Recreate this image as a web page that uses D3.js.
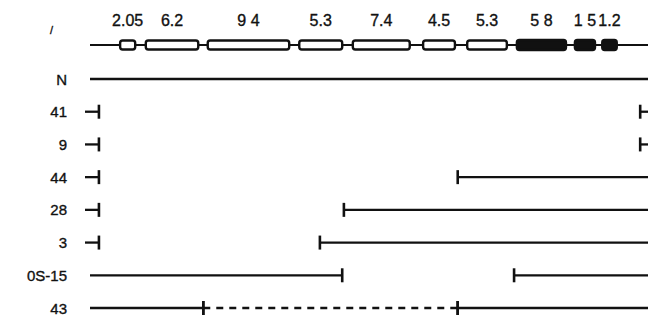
<!DOCTYPE html>
<html>
<head>
<meta charset="utf-8">
<script src="https://cdn.jsdelivr.net/npm/d3@7"></script>
<style>
    body { margin: 0; background: #fff; }
    text { font-family: "Liberation Sans", "DejaVu Sans", sans-serif; fill: #111; stroke: #111; stroke-width: 0.35px; }
</style>
</head>
<body>
<div id="map"></div>
<script>
    // gene products along the genome (map units 0-100)
    var productSizes = ["2.05", "6.2", "9 4", "5.3", "7.4", "4.5", "5.3", "5 8", "1 5", "1.2"];
    var productStart = [5.4, 10.0, 21.1, 37.5, 47.1, 59.7, 67.6, 76.5, 86.9, 91.8];
    var productEnd   = [8.1, 19.4, 35.7, 45.2, 57.3, 65.4, 74.7, 85.3, 90.5, 94.4];
    var productType  = ["open", "open", "open", "open", "open", "open", "open", "solid", "solid", "solid"];

    // strains, top to bottom
    var strains = ["N", "41", "9", "44", "28", "3", "0S-15", "43"];

    // retained genome segments per strain
    var segStrain = ["N", "41", "41", "9", "9", "44", "44", "28", "28", "3", "3", "0S-15", "0S-15", "43", "43", "43"];
    var segFrom   = [0, -0.9, 98.6, -0.9, 98.6, -0.9, 65.9, -0.9, 45.5, -0.9, 41.2, 0, 76.0, 0, 20.3, 65.9];
    var segTo     = [100, 1.6, 100, 1.6, 100, 1.6, 100, 1.6, 100, 1.6, 100, 45.2, 100, 20.3, 65.9, 100];
    var segKind   = ["solid", "solid", "solid", "solid", "solid", "solid", "solid", "solid", "solid", "solid", "solid", "solid", "solid", "solid", "dashed", "solid"];

    var segments = segStrain.map(function(s, i) {
        return {strain: s, from: segFrom[i], to: segTo[i], kind: segKind[i]};
    });
    var products = productSizes.map(function(s, i) {
        return {label: s, start: productStart[i], end: productEnd[i], type: productType[i]};
    });

    var width = 648;
    var height = 322;

    var svg = d3.select("#map").append("svg")
        .attr("width", width)
        .attr("height", height);

    // scales
    var x = d3.scaleLinear().domain([0, 100]).range([90, 648]);
    var y = d3.scalePoint().domain(strains).range([79, 308]);
    var geneY = 45;

    // ****************** genome bar ***************************

    svg.append("line")
        .attr("x1", x(0))
        .attr("x2", x(100))
        .attr("y1", geneY)
        .attr("y2", geneY)
        .attr("stroke", "#111")
        .attr("stroke-width", 2);

    svg.selectAll("rect.product")
        .data(products)
        .enter().append("rect")
        .attr("class", "product")
        .attr("x", function(d) { return x(d.start); })
        .attr("width", function(d) { return x(d.end) - x(d.start); })
        .attr("y", function(d) { return d.type == "solid" ? geneY - 5 : geneY - 4.5; })
        .attr("height", function(d) { return d.type == "solid" ? 10 : 9; })
        .attr("rx", 2.5)
        .attr("fill", function(d) { return d.type == "solid" ? "#111" : "#fff"; })
        .attr("stroke", "#111")
        .attr("stroke-width", 2.4);

    svg.selectAll("text.size")
        .data(products)
        .enter().append("text")
        .attr("class", "size")
        .attr("x", function(d) { return (x(d.start) + x(d.end)) / 2; })
        .attr("y", 26)
        .attr("text-anchor", "middle")
        .style("font-size", "16px")
        .text(function(d) { return d.label; });

    // stray mark left of the bar
    svg.append("text")
        .attr("x", 50)
        .attr("y", 34)
        .style("font-size", "11px")
        .text("/");

    // ****************** strains ***************************

    svg.selectAll("text.strain")
        .data(strains)
        .enter().append("text")
        .attr("class", "strain")
        .attr("x", 67)
        .attr("y", function(d) { return y(d) + 5.5; })
        .attr("text-anchor", "end")
        .style("font-size", "15px")
        .text(function(d) { return d; });

    svg.selectAll("line.seg")
        .data(segments)
        .enter().append("line")
        .attr("class", "seg")
        .attr("x1", function(d) { return x(d.from); })
        .attr("x2", function(d) { return x(d.to); })
        .attr("y1", function(d) { return y(d.strain); })
        .attr("y2", function(d) { return y(d.strain); })
        .attr("stroke", "#111")
        .attr("stroke-width", function(d) { return d.strain == "N" ? 2.6 : 2.3; })
        .attr("stroke-dasharray", function(d) { return d.kind == "dashed" ? "7,6" : null; });

    // end ticks where a segment breaks
    var ticks = [];
    segments.forEach(function(d) {
        if (d.from > 0) ticks.push({strain: d.strain, at: d.from});
        if (d.to < 100) ticks.push({strain: d.strain, at: d.to});
    });

    svg.selectAll("line.tick")
        .data(ticks)
        .enter().append("line")
        .attr("class", "tick")
        .attr("x1", function(d) { return x(d.at); })
        .attr("x2", function(d) { return x(d.at); })
        .attr("y1", function(d) { return y(d.strain) - 7; })
        .attr("y2", function(d) { return y(d.strain) + 7; })
        .attr("stroke", "#111")
        .attr("stroke-width", 2.6);
</script>
</body>
</html>
